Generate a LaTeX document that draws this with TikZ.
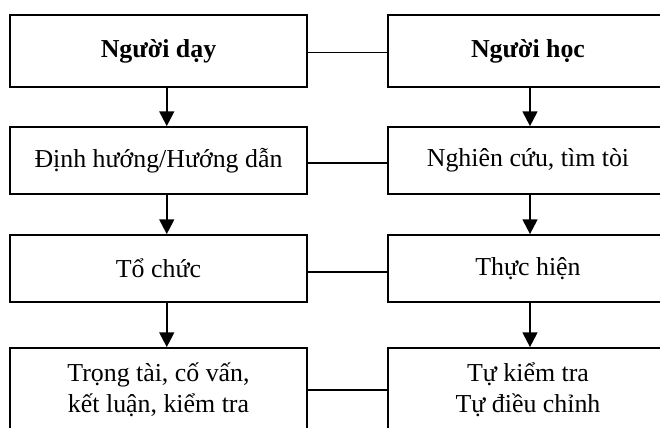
\documentclass[tikz,border=0pt]{standalone}
\usepackage{fontspec}
\setmainfont{Liberation Serif}
\usetikzlibrary{arrows.meta}

\begin{document}
\begin{tikzpicture}[x=.75pt,y=-.75pt]
\tikzset{box/.style={draw,line width=1.3pt,align=center,inner sep=0pt,
    font=\fontsize{19.4}{23.5}\selectfont},
  wideL/.style={minimum width=222.75pt},
  wideR/.style={minimum width=210pt},
  link/.style={line width=1pt},
  arr/.style={line width=1.6pt,-{Triangle[width=11pt,length=11pt]}}}

\useasboundingbox (0,0) rectangle (660,428);
\clip (0,0) rectangle (660,428);

\node[box,wideL,minimum height=54pt] (A) at (158.5,51) {\textbf{Người dạy}};
\node[box,wideL,minimum height=50.25pt] (B) at (158.5,160.5) {Định hướng/Hướng dẫn};
\node[box,wideL,minimum height=50.25pt] (C) at (158.5,268.5) {Tổ chức};
\node[box,wideL,minimum height=63pt] (D) at (158.5,390) {Trọng tài, cố vấn,\\kết luận, kiểm tra};

\node[box,wideR,minimum height=54pt] (E) at (528,51) {\textbf{Người học}};
\node[box,wideR,minimum height=50.25pt] (F) at (528,160.5) {Nghiên cứu, tìm tòi};
\node[box,wideR,minimum height=50.25pt] (G) at (528,268.5) {Thực hiện};
\node[box,wideR,minimum height=63pt] (H) at (528,390) {Tự kiểm tra\\Tự điều chỉnh};

\draw[arr] ([xshift=6.2pt]A.south) -- ([xshift=6.2pt]B.north);
\draw[arr] ([xshift=6.2pt]B.south) -- ([xshift=6.2pt]C.north);
\draw[arr] ([xshift=6.2pt]C.south) -- ([xshift=6.2pt]D.north);
\draw[arr] ([xshift=1.5pt]E.south) -- ([xshift=1.5pt]F.north);
\draw[arr] ([xshift=1.5pt]F.south) -- ([xshift=1.5pt]G.north);
\draw[arr] ([xshift=1.5pt]G.south) -- ([xshift=1.5pt]H.north);

\draw[link] ([yshift=-1.3pt]A.east) -- ([yshift=-1.3pt]E.west);
\draw[link] ([yshift=-1.8pt]B.east) -- ([yshift=-1.8pt]F.west);
\draw[link] ([yshift=-2.6pt]C.east) -- ([yshift=-2.6pt]G.west);
\draw[link] (D.east) -- (H.west);

\end{tikzpicture}
\end{document}
